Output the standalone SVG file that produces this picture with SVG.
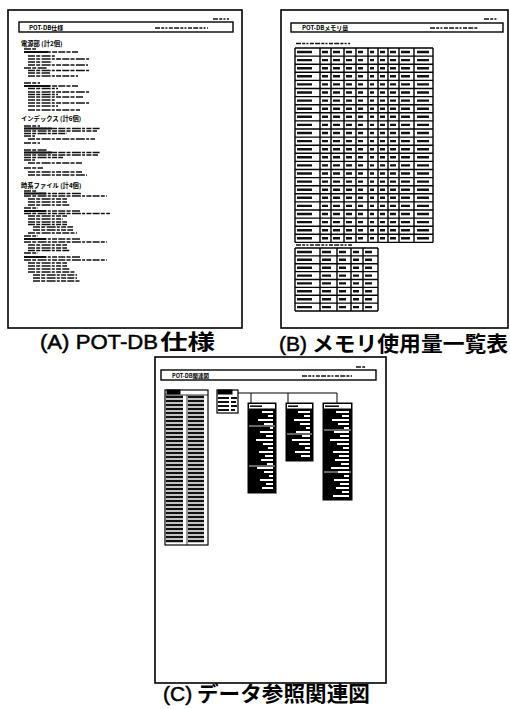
<svg xmlns="http://www.w3.org/2000/svg" width="510" height="709" viewBox="0 0 510 709">
<style>
.page{fill:#fff;stroke:#000;stroke-width:1.6}
.tbar{fill:#fff;stroke:#000;stroke-width:1.4}
.ink{fill:none;stroke:#111;stroke-width:1.4}
.txt{stroke-dasharray:7 1.2 4 1.4 9 1.2 3 1.3 5 1.2}
.grid{fill:none;stroke:#000;stroke-width:1.4}
.word{fill:none;stroke:#111;stroke-width:1.6;stroke-dasharray:5 1.2 3 1.2 2 1.5 4 1.2}
.ttl{font-family:"Noto Sans CJK JP","Liberation Sans",sans-serif;font-weight:bold;font-size:6px;fill:#000}
.hd{font-family:"Noto Sans CJK JP","Liberation Sans",sans-serif;font-weight:bold;font-size:6.3px;fill:#000}
.cap{font-family:"Liberation Sans","Noto Sans CJK JP",sans-serif;font-size:21px;fill:#000;stroke:#000;stroke-width:0.5}
.capj{font-family:"Noto Sans CJK JP",sans-serif;font-weight:bold;font-size:21px;fill:#000}
.box{fill:#fff;stroke:#000;stroke-width:1.2}
.blk{fill:#000;stroke:#000;stroke-width:1}
.wht{fill:none;stroke:#fff;stroke-width:2}
</style>

<g id="pageA">
<rect class="page" x="8" y="10" width="234" height="318"/>
<rect class="tbar" x="19" y="22" width="214" height="10"/>
<text class="ttl" x="29" y="29.5">POT-DB仕様</text>
<path class="word" d="M155 28H208M213 19H229"/>
<text class="hd" x="21" y="45.5">電源部 (計2個)</text>
<text class="hd" x="21" y="120.5">インデックス (計6個)</text>
<text class="hd" x="21" y="187.5">時系ファイル (計4個)</text>
<path class="ink txt" d="M24 49H36M24 52H78M28 56H55M28 59H90M28 62H52M28 65H88M24 68H47M28 70.5H90M28 73H50M28 76H78M24 83H40M24 86H78M28 88.5H58M28 92H90M28 94.5H58M28 97H83M28 100H55M28 103H90M28 106H58M28 110H80
M24 126H40M24 128.5H100M24 131H97M24 133.5H67M24 136H35M28 139H95M24 143H40M24 150H47M24 152.5H100M24 155H98M24 157.5H63M24 160H35M28 163H82M24 168H43M28 172H82M28 175H87
M24 191H37M24 193.5H82M24 196H107M28 199H67M28 202H67M28 205H70M24 208H38M24 211H80M24 213.5H110M28 216H67M28 219H63M28 222H67M28 224.5H67M33 227H73M33 230H73M28 233H77M24 236H38M24 239H80M24 242H107M28 245H67M28 248H67M28 250.5H70M24 253H38M24 257H80M24 260H107M28 263H67M28 266H67M28 269H70M28 272H75M33 275H77M33 278H77M33 281H80"/>
<path class="ink" style="stroke-width:2" d="M24 52H48M24 86H50M24 128.5H52M24 152.5H52M24 193.5H46M24 211H46M24 239H46M24 257H46"/>
</g>

<g id="pageB">
<rect class="page" x="281" y="10" width="227" height="318"/>
<rect class="tbar" x="291" y="23" width="212" height="9"/>
<text class="ttl" x="302" y="30">POT-DBメモリ量</text>
<path class="word" d="M430 28H478M484 19H498M296 43.5H350M296 245H352"/>
<path class="grid" d="M295 48H433M295 56.1H433M295 64.2H433M295 72.3H433M295 80.4H433M295 88.5H433M295 96.6H433M295 104.7H433M295 112.8H433M295 120.9H433M295 129H433M295 137.1H433M295 145.2H433M295 153.3H433M295 161.4H433M295 169.5H433M295 177.6H433M295 185.7H433M295 193.8H433M295 201.9H433M295 210H433M295 218.1H433M295 226.2H433M295 234.3H433M295 242.4H433
M295 48V242.4M320 48V242.4M331 48V242.4M344 48V242.4M356 48V242.4M368 48V242.4M378 48V242.4M388 48V242.4M399 48V242.4M414 48V242.4M433 48V242.4"/>
<path class="ink" style="stroke-width:2.4;stroke-dasharray:15 10 6 5 7 6 6 6 5 7 4 6 5 5 6 5 9 7 12 5" d="M297 52h136M297 60.1h136M297 68.2h136M297 76.3h136M297 84.4h136M297 92.5h136M297 100.6h136M297 108.7h136M297 116.8h136M297 124.9h136M297 133h136M297 141.1h136M297 149.2h136M297 157.3h136M297 165.4h136M297 173.5h136M297 181.6h136M297 189.7h136M297 197.8h136M297 205.9h136M297 214h136M297 222.1h136M297 230.2h136M297 238.3h136"/>
<path class="grid" d="M295 248H378M295 255.9H378M295 263.8H378M295 271.6H378M295 279.5H378M295 287.4H378M295 295.3H378M295 303.1H378M295 311H378
M295 248V311M320 248V311M337 248V311M351 248V311M363 248V311M378 248V311"/>
<path class="ink" style="stroke-width:2.4;stroke-dasharray:15 10 9 8 7 7 6 6 7 6" d="M297 252h81M297 259.8h81M297 267.7h81M297 275.6h81M297 283.4h81M297 291.3h81M297 299.2h81M297 307.1h81"/>
</g>

<g id="pageC">
<rect class="page" x="155" y="357" width="231" height="326"/>
<rect class="tbar" x="161" y="370" width="215" height="10"/>
<text class="ttl" x="172" y="377.5" style="font-size:5.5px">POT-DB関連図</text>
<path class="word" d="M302 376H352M356 367H366"/>
</g>

<g id="connectors">
<path class="grid" style="stroke-width:1" d="M238 393H337M251 393V403M288 393V403M337 393V403"/>
</g>

<g id="box1">
<rect class="box" x="165" y="390" width="43" height="155"/>
<rect class="blk" x="167" y="390" width="13" height="4"/>
<path class="grid" style="stroke-width:0.8" d="M187 395V545M165 395H208"/>
<path class="ink" style="stroke-width:2.6;stroke-dasharray:17 5 16 4" d="M166 397h42M166 401h42M166 405h42M166 409h42M166 413h42M166 417h42M166 421h42M166 425h42M166 429h42M166 433h42M166 437h42M166 441h42M166 445h42M166 449h42M166 453h42M166 457h42M166 461h42M166 465h42M166 469h42M166 473h42M166 477h42M166 481h42M166 485h42M166 489h42M166 493h42M166 497h42M166 501h42M166 505h42M166 509h42M166 513h42M166 517h42M166 521h42M166 525h42M166 529h42M166 533h42M166 537h42M166 541h42"/>
</g>

<g id="box2">
<rect class="box" x="217" y="390" width="21" height="23"/>
<rect class="blk" x="218" y="390" width="14" height="4"/>
<path class="ink" style="stroke-width:2.2" d="M218 398h11M231 398h6M218 402h11M231 402h5M218 406h11M231 406h6M218 410h11M231 410h4"/>
</g>

<g id="box3">
<rect class="blk" x="248" y="403" width="28" height="90"/>
<rect x="249" y="404" width="26" height="4.5" fill="#fff"/>
<path class="ink" style="stroke-width:1.6" d="M250 406.2h12"/>
<path class="wht" d="M262 412H273M268 416H273M258 420H273M264 424H273M270 428H273M260 432H273M266 436H273M256 440H273M263 444H273M268 448H273M259 452H273M265 456H273M261 460H273M267 464H273M257 468H273M264 472H273M269 476H273M260 480H273M266 484H273M262 488H273"/>
<path class="wht" style="stroke-width:0.8" d="M249 426H275M249 466H275"/>
</g>

<g id="box4">
<rect class="blk" x="286" y="403" width="27" height="58"/>
<rect x="287" y="404" width="25" height="4.5" fill="#fff"/>
<path class="ink" style="stroke-width:1.6" d="M288 406.2h10"/>
<path class="wht" d="M298 412H310M304 416H310M294 420H310M300 424H310M306 428H310M296 432H310M302 436H310M292 440H310M299 444H310M305 448H310M295 452H310M301 456H310"/>
<path class="wht" style="stroke-width:0.8" d="M287 434H312"/>
</g>

<g id="box5">
<rect class="blk" x="323" y="403" width="29" height="97"/>
<rect x="324" y="404" width="27" height="4.5" fill="#fff"/>
<path class="ink" style="stroke-width:1.6" d="M325 406.2h14"/>
<path class="wht" d="M336 412H349M342 416H349M332 420H349M338 424H349M344 428H349M334 432H349M340 436H349M330 440H349M337 444H349M343 448H349M333 452H349M339 456H349M335 460H349M341 464H349M331 468H349M338 472H349M344 476H349M334 480H349M340 484H349M336 488H349M342 492H349M333 496H349"/>
<path class="wht" style="stroke-width:0.8" d="M324 430H351M324 472H351"/>
</g>

<g id="captions">
<text class="cap" x="40" y="349" textLength="118" lengthAdjust="spacingAndGlyphs">(A) POT-DB</text>
<text class="capj" x="160" y="349" textLength="55" lengthAdjust="spacingAndGlyphs">仕様</text>
<text class="cap" x="279" y="351">(B)</text>
<text class="capj" x="312" y="351" textLength="196" lengthAdjust="spacingAndGlyphs">メモリ使用量一覧表</text>
<text class="cap" x="163" y="701">(C)</text>
<text class="capj" x="197" y="701" textLength="173" lengthAdjust="spacingAndGlyphs">データ参照関連図</text>
</g>
</svg>
